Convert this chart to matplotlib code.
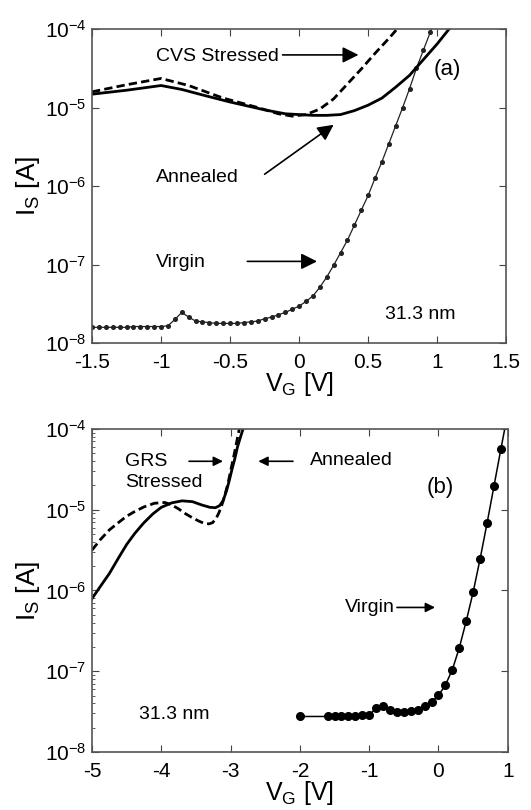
"""Gate voltage sweeps of the source current, panels (a) and (b)."""
import numpy as np
import matplotlib
matplotlib.use('Agg')
import matplotlib.pyplot as plt
from matplotlib.ticker import LogLocator, LogFormatterMathtext, NullFormatter

plt.rcParams['font.family'] = ['Liberation Sans', 'DejaVu Sans']
plt.rcParams['mathtext.fontset'] = 'custom'
plt.rcParams['mathtext.rm'] = 'Liberation Sans'
plt.rcParams['mathtext.it'] = 'Liberation Sans'

# panel (a): log10 of I_S [A]
vg_a_virgin = [-1.50, -1.45, -1.40, -1.35, -1.30, -1.25, -1.20, -1.15, -1.10, -1.05,
               -1.00, -0.95, -0.90, -0.85, -0.80, -0.75, -0.70, -0.65, -0.60, -0.55,
               -0.50, -0.45, -0.40, -0.35, -0.30, -0.25, -0.20, -0.15, -0.10, -0.05,
               0.00, 0.05, 0.10, 0.15, 0.20, 0.25, 0.30, 0.35, 0.40, 0.45,
               0.50, 0.55, 0.60, 0.65, 0.70, 0.75, 0.80, 0.85, 0.90, 0.95, 1.00]
log_a_virgin = [-7.80, -7.80, -7.80, -7.80, -7.80, -7.80, -7.79, -7.79, -7.79, -7.79,
                -7.79, -7.78, -7.70, -7.61, -7.67, -7.72, -7.73, -7.74, -7.75, -7.75,
                -7.75, -7.75, -7.74, -7.73, -7.72, -7.69, -7.67, -7.64, -7.61, -7.57,
                -7.53, -7.47, -7.40, -7.29, -7.16, -7.01, -6.85, -6.69, -6.50, -6.31,
                -6.12, -5.90, -5.69, -5.46, -5.23, -5.00, -4.76, -4.50, -4.27, -4.04, -3.81]

vg_a_annealed = [-1.50, -1.25, -1.00, -0.85, -0.70, -0.50, -0.25, -0.10, 0.00, 0.10,
                 0.20, 0.30, 0.40, 0.50, 0.60, 0.70, 0.80, 0.90, 1.00, 1.10]
log_a_annealed = [-4.83, -4.78, -4.72, -4.77, -4.84, -4.93, -5.03, -5.08, -5.09, -5.10,
                  -5.10, -5.09, -5.04, -4.97, -4.88, -4.74, -4.59, -4.39, -4.19, -3.97]

vg_a_stressed = [-1.50, -1.25, -1.00, -0.80, -0.55, -0.30, -0.15, -0.05, 0.05, 0.15,
                 0.25, 0.35, 0.45, 0.55, 0.65, 0.72]
log_a_stressed = [-4.80, -4.71, -4.63, -4.72, -4.88, -5.00, -5.08, -5.11, -5.09, -5.02,
                  -4.89, -4.70, -4.51, -4.31, -4.12, -3.98]

# panel (b)
vg_b_virgin = [-2.0, -1.6, -1.5, -1.4, -1.3, -1.2, -1.1, -1.0, -0.9, -0.8, -0.7, -0.6,
               -0.5, -0.4, -0.3, -0.2, -0.1, 0.0, 0.1, 0.2, 0.3, 0.4, 0.5, 0.6,
               0.7, 0.8, 0.9, 1.0]
log_b_virgin = [-7.56, -7.56, -7.56, -7.56, -7.56, -7.555, -7.54, -7.54, -7.46, -7.43,
                -7.48, -7.50, -7.50, -7.49, -7.475, -7.43, -7.38, -7.30, -7.17, -6.98,
                -6.71, -6.38, -6.02, -5.61, -5.17, -4.71, -4.25, -3.80]

vg_b_annealed = [-5.00, -4.88, -4.75, -4.62, -4.50, -4.38, -4.25, -4.12, -4.00, -3.85,
                 -3.70, -3.55, -3.42, -3.30, -3.22, -3.16, -3.11, -3.06, -3.02, -2.98,
                 -2.94, -2.90, -2.85, -2.81]
log_b_annealed = [-6.10, -5.95, -5.79, -5.60, -5.43, -5.29, -5.16, -5.05, -4.97, -4.915,
                  -4.89, -4.90, -4.94, -4.97, -4.975, -4.95, -4.89, -4.77, -4.64, -4.50,
                  -4.37, -4.22, -4.08, -3.97]

vg_b_stressed = [-5.00, -4.88, -4.75, -4.62, -4.50, -4.38, -4.25, -4.10, -3.95, -3.85,
                 -3.75, -3.65, -3.55, -3.46, -3.38, -3.31, -3.26, -3.21, -3.17, -3.13,
                 -3.09, -3.04, -3.00, -2.95, -2.91, -2.87]
log_b_stressed = [-5.50, -5.37, -5.25, -5.16, -5.08, -5.02, -4.965, -4.92, -4.91, -4.94,
                  -4.99, -5.05, -5.10, -5.14, -5.17, -5.175, -5.16, -5.11, -5.04, -4.95,
                  -4.84, -4.68, -4.52, -4.32, -4.15, -3.98]


def to_amps(logs):
    return 10.0 ** np.array(logs)


def style_axes(ax, xlim, xticks, minor_left=False):
    ax.set_yscale('log')
    ax.set_xlim(*xlim)
    ax.set_ylim(1e-8, 1e-4)
    ax.set_xticks(xticks)
    ax.set_xticklabels([('%g' % t) for t in xticks])
    ax.yaxis.set_major_locator(LogLocator(base=10, numticks=10))
    ax.yaxis.set_major_formatter(LogFormatterMathtext())
    if minor_left:
        ax.yaxis.set_minor_locator(LogLocator(base=10, subs=np.arange(2, 10), numticks=10))
    else:
        ax.yaxis.set_minor_locator(LogLocator(base=10, subs=[], numticks=10))
    ax.yaxis.set_minor_formatter(NullFormatter())
    ax.tick_params(which='major', direction='in', top=True, right=True, length=5,
                   width=0.8, labelsize=15, pad=4, color='#444444')
    ax.tick_params(axis='x', which='major', pad=7)
    ax.tick_params(which='minor', direction='in', length=2.5, width=0.6,
                   right=False, color='#444444')
    for sp in ax.spines.values():
        sp.set_color('#555555')
        sp.set_linewidth(1.2)
    ax.set_xlabel('V$_\\mathregular{G}$ [V]', fontsize=18, labelpad=-1)
    ax.set_ylabel('I$_\\mathregular{S}$ [A]', fontsize=19, labelpad=2)


fig = plt.figure(figsize=(5.31, 8.10), dpi=100)
ax1 = fig.add_axes([0.1733, 0.5765, 0.780, 0.3877])
ax2 = fig.add_axes([0.1733, 0.0716, 0.783, 0.3988])

# ---- panel (a)
ax1.plot(vg_a_virgin, to_amps(log_a_virgin), '-', color='#222222', lw=0.9,
         marker='o', markersize=2.6)
ax1.plot(vg_a_annealed, to_amps(log_a_annealed), '-', color='k', lw=2.0)
ax1.plot(vg_a_stressed, to_amps(log_a_stressed), '--', color='k', lw=2.0, dashes=(3, 1.5))
style_axes(ax1, (-1.5, 1.5), [-1.5, -1, -0.5, 0, 0.5, 1, 1.5])

big_arrow = dict(arrowstyle='-|>', mutation_scale=24, lw=1.2, color='k', shrinkA=0, shrinkB=0)
ax1.text(-1.04, 10 ** -4.35, 'CVS Stressed', fontsize=14, va='center', ha='left')
ax1.annotate('', xy=(0.43, 10 ** -4.33), xytext=(-0.12, 10 ** -4.33), arrowprops=big_arrow)
ax1.text(-1.04, 10 ** -5.89, 'Annealed', fontsize=14, va='center', ha='left')
ax1.annotate('', xy=(0.25, 10 ** -5.22), xytext=(-0.25, 10 ** -5.85), arrowprops=big_arrow)
ax1.text(-1.04, 10 ** -6.98, 'Virgin', fontsize=14, va='center', ha='left')
ax1.annotate('', xy=(0.13, 10 ** -6.96), xytext=(-0.375, 10 ** -6.96), arrowprops=big_arrow)
ax1.text(1.07, 10 ** -4.52, '(a)', fontsize=16, va='center', ha='center')
ax1.text(0.88, 10 ** -7.64, '31.3 nm', fontsize=14, va='center', ha='center')

# ---- panel (b)
ax2.plot(vg_b_virgin, to_amps(log_b_virgin), '-', color='k', lw=1.1,
         marker='o', markersize=5.5)
ax2.plot(vg_b_annealed, to_amps(log_b_annealed), '-', color='k', lw=2.0)
ax2.plot(vg_b_stressed, to_amps(log_b_stressed), '--', color='k', lw=2.0, dashes=(3, 1.5))
style_axes(ax2, (-5, 1), [-5, -4, -3, -2, -1, 0, 1], minor_left=True)

small_arrow = dict(arrowstyle='-|>', mutation_scale=14, lw=1.2, color='k', shrinkA=0, shrinkB=0)
ax2.text(-4.52, 10 ** -4.40, 'GRS', fontsize=14, va='center', ha='left')
ax2.text(-4.52, 10 ** -4.66, 'Stressed', fontsize=14, va='center', ha='left')
ax2.annotate('', xy=(-3.11, 10 ** -4.40), xytext=(-3.60, 10 ** -4.40), arrowprops=small_arrow)
ax2.annotate('', xy=(-2.60, 10 ** -4.40), xytext=(-2.10, 10 ** -4.40), arrowprops=small_arrow)
ax2.text(-1.86, 10 ** -4.39, 'Annealed', fontsize=14, va='center', ha='left')
ax2.text(0.02, 10 ** -4.73, '(b)', fontsize=16, va='center', ha='center')
ax2.text(-1.35, 10 ** -6.21, 'Virgin', fontsize=14, va='center', ha='left')
ax2.annotate('', xy=(-0.05, 10 ** -6.21), xytext=(-0.60, 10 ** -6.21), arrowprops=small_arrow)
ax2.text(-3.82, 10 ** -7.53, '31.3 nm', fontsize=14, va='center', ha='center')

fig.savefig('out.png', dpi=100)
